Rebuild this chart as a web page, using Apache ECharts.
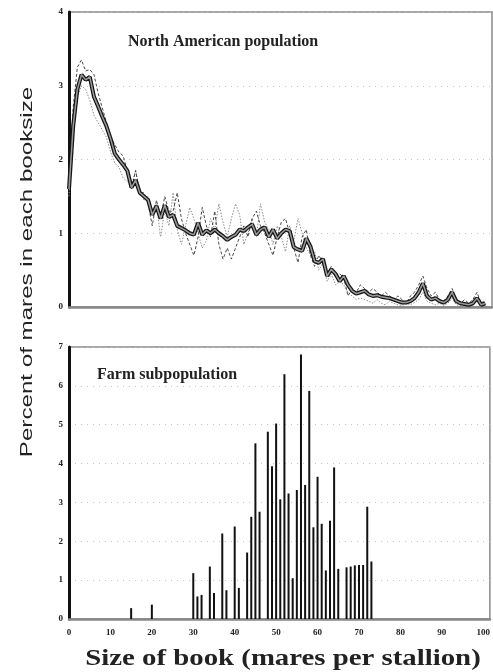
<!DOCTYPE html>
<html>
<head>
<meta charset="utf-8">
<script src="https://cdn.jsdelivr.net/npm/echarts@6/dist/echarts.min.js"></script>
<style>
html,body{margin:0;padding:0;background:#fff;}
#chart{width:493px;height:672px;}
</style>
</head>
<body>
<div id="chart"></div>
<script>
// Book sizes (mares per stallion) for the North American population
var bookSizes = [0,1,2,3,4,5,6,7,8,9,10,11,12,13,14,15,16,17,18,19,20,21,22,23,24,25,26,27,28,29,30,31,32,33,34,35,36,37,38,39,40,41,42,43,44,45,46,47,48,49,50,51,52,53,54,55,56,57,58,59,60,61,62,63,64,65,66,67,68,69,70,71,72,73,74,75,76,77,78,79,80,81,82,83,84,85,86,87,88,89,90,91,92,93,94,95,96,97,98,99,100];
// Main (thick) curve
var naMain = [1.6,2.45,2.95,3.15,3.08,3.12,2.85,2.72,2.58,2.45,2.28,2.08,2.0,1.93,1.85,1.62,1.72,1.55,1.5,1.45,1.25,1.37,1.2,1.38,1.22,1.25,1.1,1.07,1.04,1.0,0.98,1.14,0.98,1.04,1.0,1.05,1.0,0.96,0.91,0.95,0.98,1.05,1.03,1.08,1.12,0.98,1.05,1.08,0.95,1.05,0.93,1.0,1.05,1.03,0.81,0.78,0.76,0.93,0.82,0.62,0.6,0.65,0.42,0.51,0.45,0.35,0.42,0.3,0.22,0.18,0.2,0.22,0.17,0.15,0.16,0.14,0.13,0.12,0.1,0.08,0.06,0.06,0.08,0.12,0.2,0.32,0.15,0.1,0.12,0.08,0.06,0.1,0.2,0.08,0.05,0.04,0.03,0.05,0.12,0.03,0.05];
// Thin dashed black curve
var naDashed = [1.7,2.7,3.25,3.35,3.2,3.22,3.15,2.9,2.7,2.5,2.3,2.2,2.1,2.05,1.85,1.6,1.85,1.55,1.55,1.4,1.1,1.45,1.2,1.5,1.3,1.3,1.55,1.2,1.0,0.85,0.7,0.95,1.35,1.1,0.95,1.3,0.85,0.65,0.8,0.65,0.8,0.95,1.1,0.95,1.2,1.3,1.1,1.0,0.85,0.7,0.95,1.15,1.2,1.0,0.8,0.6,0.95,1.05,0.7,0.55,0.7,0.6,0.45,0.55,0.4,0.45,0.4,0.15,0.25,0.2,0.3,0.25,0.2,0.25,0.2,0.15,0.2,0.15,0.1,0.15,0.1,0.05,0.15,0.2,0.3,0.42,0.25,0.15,0.2,0.1,0.08,0.15,0.25,0.12,0.05,0.1,0.05,0.1,0.2,0.05,0.1];
// Thin dotted grey curve
var naDotted = [1.5,2.3,2.85,3.0,2.95,2.8,2.6,2.5,2.4,2.3,2.1,1.95,1.9,1.75,1.7,1.65,1.85,1.6,1.45,1.5,1.25,1.4,0.95,1.3,1.1,1.55,1.05,0.85,1.1,1.35,1.2,1.0,0.8,0.9,1.2,1.05,1.4,1.15,0.95,1.2,1.4,1.25,0.85,1.0,1.2,0.95,1.4,1.15,1.05,0.85,1.1,0.95,0.75,1.1,0.9,1.2,1.0,0.8,0.7,0.75,0.5,0.6,0.35,0.45,0.3,0.35,0.3,0.2,0.15,0.1,0.12,0.1,0.08,0.05,0.1,0.05,0.03,0.08,0.05,0.03,0.02,0.05,0.03,0.06,0.1,0.2,0.08,0.05,0.03,0.05,0.02,0.05,0.12,0.03,0.02,0.01,0.02,0.03,0.08,0.02,0.03];
// Farm subpopulation bars
var farmBooks = [15,20,30,31,32,34,35,37,38,40,41,43,44,45,46,48,49,50,51,52,53,54,55,56,57,58,59,60,61,62,63,64,65,67,68,69,70,71,72,73];
var farmPercent = [0.28,0.37,1.18,0.58,0.62,1.35,0.67,2.2,0.74,2.38,0.8,1.71,2.63,4.52,2.76,4.82,3.93,5.03,3.08,6.3,3.23,1.05,3.32,6.81,3.45,5.87,2.36,3.66,2.45,1.25,2.53,3.9,1.29,1.33,1.35,1.38,1.39,1.39,2.89,1.48];
var xTicks = [0,10,20,30,40,50,60,70,80,90,100];
var topYTicks = [0,1,2,3,4];
var bottomYTicks = [0,1,2,3,4,5,6,7];

function pairs(xs, ys){ var out=[]; for(var i=0;i<xs.length;i++){ out.push([xs[i], ys[i]]); } return out; }

var chart = echarts.init(document.getElementById('chart'), null, {renderer:'canvas'});
var serif = "'Liberation Serif', 'DejaVu Serif', serif";
var splitStyle = {show:true, lineStyle:{color:'#c4c4c4', width:1, type:[1,5]}};
var yLabel = {fontFamily: serif, fontWeight:'bold', fontSize:9, color:'#222', margin:6};

var option = {
  animation:false,
  backgroundColor:'#fff',
  grid:[
    {left:69, top:12, width:423, height:295, show:true, borderColor:'#8a8a8a', borderWidth:1.5, backgroundColor:'transparent'},
    {left:69, top:347, width:423, height:272, show:true, borderColor:'#8a8a8a', borderWidth:1.5, backgroundColor:'transparent'}
  ],
  title:[
    {text:'North American population', left:123, top:29, textStyle:{fontFamily:serif, fontWeight:'bold', fontSize:16, color:'#222'}},
    {text:'Farm subpopulation', left:92, top:362, textStyle:{fontFamily:serif, fontWeight:'bold', fontSize:16, color:'#222'}}
  ],
  xAxis:[
    {type:'value', gridIndex:0, min:0, max:101.6, interval:10,
     axisLine:{show:true, onZero:false, lineStyle:{color:'#888', width:2.5}},
     axisTick:{show:false}, axisLabel:{show:false}, splitLine:{show:false}},
    {type:'value', gridIndex:1, min:0, max:101.6, interval:10,
     axisLine:{show:true, onZero:false, lineStyle:{color:'#888', width:2.5}},
     axisTick:{show:false},
     axisLabel:{show:true, fontFamily:serif, fontWeight:'bold', fontSize:9, color:'#222', margin:9,
       formatter:function(v){ return xTicks.indexOf(Math.round(v))>=0 && Math.abs(v-Math.round(v))<1e-6 ? String(Math.round(v)) : ''; }},
     splitLine:{show:false}}
  ],
  yAxis:[
    {type:'value', gridIndex:0, min:topYTicks[0], max:topYTicks[topYTicks.length-1], interval:1,
     axisLine:{show:true, lineStyle:{color:'#111', width:3}}, axisTick:{show:false},
     axisLabel:yLabel, splitLine:splitStyle},
    {type:'value', gridIndex:1, min:bottomYTicks[0], max:bottomYTicks[bottomYTicks.length-1], interval:1,
     axisLine:{show:true, lineStyle:{color:'#111', width:3}}, axisTick:{show:false},
     axisLabel:yLabel, splitLine:splitStyle}
  ],
  series:[
    {type:'line', xAxisIndex:0, yAxisIndex:0, data:pairs(bookSizes, naDotted), symbol:'none',
     lineStyle:{color:'#8c8c8c', width:1, type:[1.5,1.5]}, z:2},
    {type:'line', xAxisIndex:0, yAxisIndex:0, data:pairs(bookSizes, naDashed), symbol:'none',
     lineStyle:{color:'#333', width:0.9, type:[3,2]}, z:3},
    {type:'line', xAxisIndex:0, yAxisIndex:0, data:pairs(bookSizes, naMain), symbol:'none',
     lineStyle:{color:'#151515', width:4}, z:4},
    {type:'line', xAxisIndex:0, yAxisIndex:0, data:pairs(bookSizes, naMain), symbol:'none',
     lineStyle:{color:'#9a9a9a', width:1.5}, z:5},
    {type:'bar', xAxisIndex:1, yAxisIndex:1, data:pairs(farmBooks, farmPercent), barWidth:2,
     itemStyle:{color:'#111'}, z:4}
  ],
  graphic:[
    {type:'text', x:27, y:272, rotation:Math.PI/2, scaleX:1.42, scaleY:1,
     style:{text:'Percent of mares in each booksize', font:"17px 'Liberation Sans', Arial, sans-serif", fill:'#222', textAlign:'center', textVerticalAlign:'middle'}},
    {type:'text', x:283, y:659, scaleX:1.2, scaleY:1,
     style:{text:'Size of book (mares per stallion)', font:"bold 24px 'Liberation Serif', serif", fill:'#222', textAlign:'center', textVerticalAlign:'middle'}}
  ]
};
chart.setOption(option);
</script>
</body>
</html>
